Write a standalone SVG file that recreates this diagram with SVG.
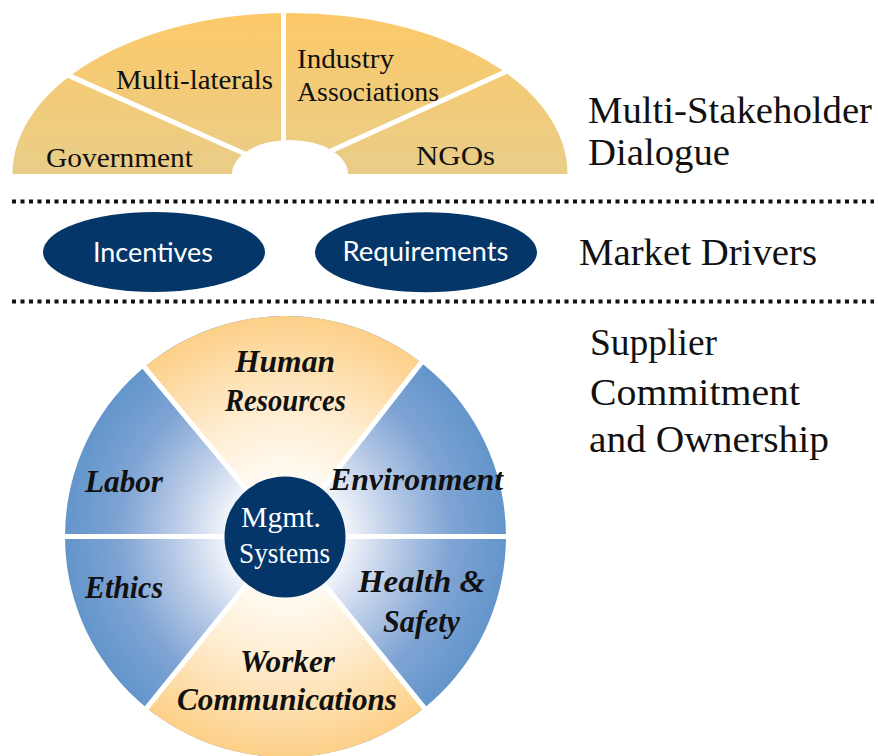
<svg xmlns="http://www.w3.org/2000/svg" width="878" height="756" viewBox="0 0 878 756">
  <defs>
    <linearGradient id="fanFill" x1="0" y1="13" x2="0" y2="174" gradientUnits="userSpaceOnUse">
      <stop offset="0" stop-color="#fcc969"/>
      <stop offset="1" stop-color="#e9cd88"/>
    </linearGradient>
    <radialGradient id="blueFill" cx="285.5" cy="536.5" r="220.5" gradientUnits="userSpaceOnUse">
      <stop offset="0.25" stop-color="#f7f8fc"/>
      <stop offset="0.5" stop-color="#b9cbe7"/>
      <stop offset="0.75" stop-color="#7fa4d4"/>
      <stop offset="1" stop-color="#6395cb"/>
    </radialGradient>
    <radialGradient id="goldFill" cx="285.5" cy="536.5" r="220.5" gradientUnits="userSpaceOnUse">
      <stop offset="0.25" stop-color="#fffcf6"/>
      <stop offset="0.6" stop-color="#feebcc"/>
      <stop offset="1" stop-color="#fdd088"/>
    </radialGradient>
  </defs>
  <style>
    .fanLabel { font-family: "Liberation Serif", "Times New Roman", serif; font-size: 28px; fill: #111; }
    .tier { font-family: "Liberation Serif", "Times New Roman", serif; font-size: 38px; fill: #111; }
    .pill { fill: #04366a; }
    .pillLabel { font-family: Lato, "Liberation Sans", sans-serif; font-size: 27px; fill: #ffffff; text-anchor: middle; }
    .cut { stroke: #ffffff; stroke-width: 5; fill: none; }
    .area { font-family: "Liberation Serif", "Times New Roman", serif; font-size: 31px; font-weight: bold; font-style: italic; fill: #111; }
    .core { font-family: "Liberation Serif", "Times New Roman", serif; font-size: 29px; fill: #ffffff; text-anchor: middle; }
    .sep { stroke: #111; stroke-width: 4; stroke-dasharray: 4 4.5; fill: none; }
  </style>

  <!-- Stakeholder fan -->
  <g id="stakeholder-fan">
    <path d="M12.5,174 A277.5,161 0 0 1 567.5,174 Z" fill="url(#fanFill)"/>
    <line class="cut" x1="283.5" y1="10" x2="283.5" y2="174"/>
    <line class="cut" x1="55" y1="69.4" x2="290" y2="174"/>
    <line class="cut" x1="515" y1="67.5" x2="280" y2="174"/>
    <ellipse cx="290" cy="174" rx="58" ry="34" fill="#ffffff"/>
  </g>
  <g id="government">
    <text class="fanLabel" x="46" y="167" textLength="147" lengthAdjust="spacingAndGlyphs">Government</text>
  </g>
  <g id="multi-laterals">
    <text class="fanLabel" x="116" y="89" textLength="157" lengthAdjust="spacingAndGlyphs">Multi-laterals</text>
  </g>
  <g id="industry-associations">
    <text class="fanLabel" x="297" y="68" textLength="97" lengthAdjust="spacingAndGlyphs">Industry</text>
    <text class="fanLabel" x="297" y="101" textLength="142" lengthAdjust="spacingAndGlyphs">Associations</text>
  </g>
  <g id="ngos">
    <text class="fanLabel" x="416" y="165" textLength="79" lengthAdjust="spacingAndGlyphs">NGOs</text>
  </g>

  <!-- Tier captions -->
  <g id="tier-dialogue">
    <text class="tier" x="588" y="123" textLength="284" lengthAdjust="spacingAndGlyphs">Multi-Stakeholder</text>
    <text class="tier" x="588" y="165" textLength="142" lengthAdjust="spacingAndGlyphs">Dialogue</text>
  </g>
  <g id="tier-market">
    <text class="tier" x="579" y="265" textLength="238" lengthAdjust="spacingAndGlyphs">Market Drivers</text>
  </g>
  <g id="tier-supplier">
    <text class="tier" x="590" y="355" textLength="127" lengthAdjust="spacingAndGlyphs">Supplier</text>
    <text class="tier" x="590" y="405" textLength="210" lengthAdjust="spacingAndGlyphs">Commitment</text>
    <text class="tier" x="589" y="452" textLength="240" lengthAdjust="spacingAndGlyphs">and Ownership</text>
  </g>

  <!-- Dotted separators between tiers -->
  <g id="dividers">
    <line class="sep" x1="12" y1="201.5" x2="874" y2="201.5"/>
    <line class="sep" x1="12" y1="301.5" x2="874" y2="301.5"/>
  </g>

  <!-- Market drivers -->
  <g id="incentives">
    <ellipse class="pill" cx="154" cy="252" rx="111" ry="40"/>
    <text class="pillLabel" x="153" y="262" textLength="120" lengthAdjust="spacingAndGlyphs">Incentives</text>
  </g>
  <g id="requirements">
    <ellipse class="pill" cx="426" cy="252.3" rx="111" ry="40"/>
    <text class="pillLabel" x="425.5" y="261" textLength="166" lengthAdjust="spacingAndGlyphs">Requirements</text>
  </g>

  <!-- Supplier wheel -->
  <g id="wheel">
    <circle cx="285.5" cy="536.5" r="220.5" fill="url(#blueFill)"/>
    <path d="M285.5,536.5 L144.4,367.1 A220.5,220.5 0 0 1 421.3,362.7 Z" fill="url(#goldFill)"/>
    <path d="M285.5,536.5 L424.3,707.9 A220.5,220.5 0 0 1 146.7,707.9 Z" fill="url(#goldFill)"/>
    <line class="cut" x1="59" y1="536.5" x2="512" y2="536.5"/>
    <line class="cut" x1="285.5" y1="536.5" x2="140.8" y2="362.9"/>
    <line class="cut" x1="285.5" y1="536.5" x2="424.6" y2="358.4"/>
    <line class="cut" x1="285.5" y1="536.5" x2="143.3" y2="712.1"/>
    <line class="cut" x1="285.5" y1="536.5" x2="427.7" y2="712.1"/>
  </g>
  <g id="human-resources">
    <text class="area" x="235" y="372" textLength="100" lengthAdjust="spacingAndGlyphs">Human</text>
    <text class="area" x="225" y="411" textLength="121" lengthAdjust="spacingAndGlyphs">Resources</text>
  </g>
  <g id="labor">
    <text class="area" x="85" y="492" textLength="78" lengthAdjust="spacingAndGlyphs">Labor</text>
  </g>
  <g id="environment">
    <text class="area" x="330" y="490" textLength="173" lengthAdjust="spacingAndGlyphs">Environment</text>
  </g>
  <g id="ethics">
    <text class="area" x="85" y="598" textLength="78" lengthAdjust="spacingAndGlyphs">Ethics</text>
  </g>
  <g id="health-safety">
    <text class="area" x="358" y="592" textLength="127" lengthAdjust="spacingAndGlyphs">Health &amp;</text>
    <text class="area" x="383" y="632" textLength="77" lengthAdjust="spacingAndGlyphs">Safety</text>
  </g>
  <g id="worker-communications">
    <text class="area" x="240" y="672" textLength="95" lengthAdjust="spacingAndGlyphs">Worker</text>
    <text class="area" x="177" y="710" textLength="220" lengthAdjust="spacingAndGlyphs">Communications</text>
  </g>
  <g id="mgmt-systems">
    <circle cx="285" cy="537" r="60.5" fill="#04366a"/>
    <text class="core" x="281" y="527" textLength="80" lengthAdjust="spacingAndGlyphs">Mgmt.</text>
    <text class="core" x="284.5" y="563" textLength="91" lengthAdjust="spacingAndGlyphs">Systems</text>
  </g>
</svg>
